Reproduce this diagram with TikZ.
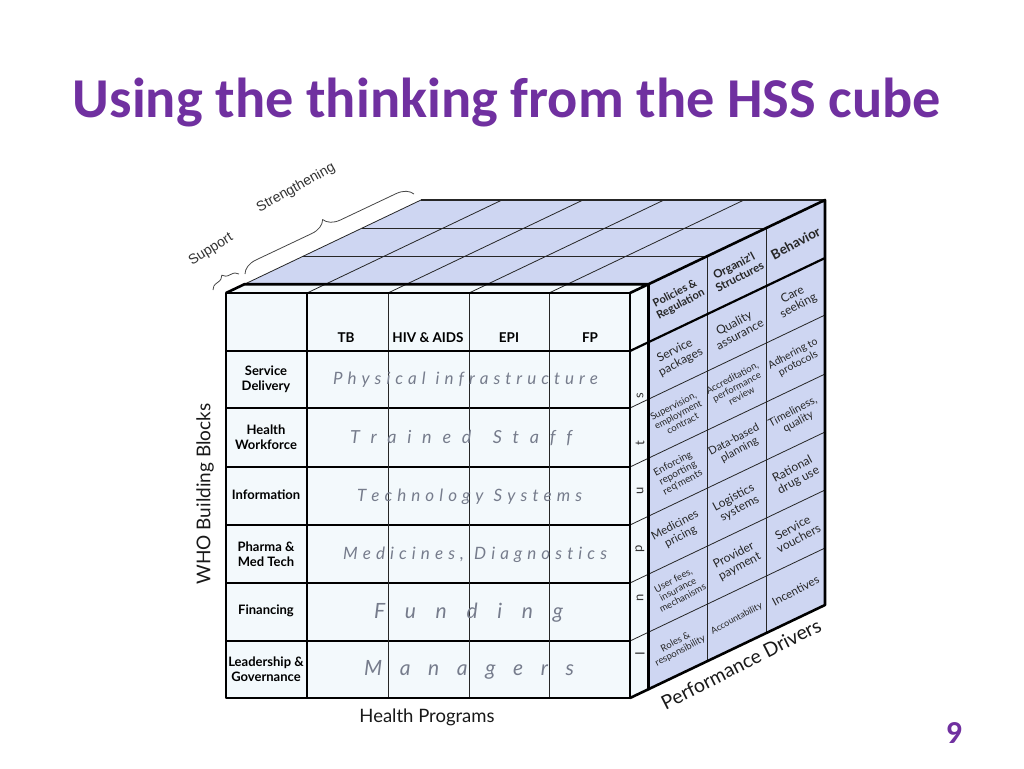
\documentclass[tikz,border=0pt]{standalone}
\usepackage{fontspec}
\usepackage{graphicx}
\usetikzlibrary{decorations.pathreplacing,calc}
\newfontfamily\lato{Lato}
\newfontfamily\carl{Carlito}
\newfontfamily\libs{Liberation Sans}
\definecolor{bluef}{RGB}{206,214,242}
\definecolor{frontf}{RGB}{243,249,252}
\definecolor{spreadc}{RGB}{118,124,140}
\definecolor{ttl}{RGB}{112,48,160}
\definecolor{bracec}{RGB}{70,70,70}
\makeatletter
\newcommand\spl@tters[1]{\def\spl@sep{}\@tfor\spl@c:=#1\do{\spl@sep\spl@c\def\spl@sep{\hfill}}}
\newcommand\spreadone[2]{\makebox[#1][s]{\spl@tters{#2}}}
\newcommand\spreadtwo[3]{\makebox[#1][s]{\spl@tters{#2}\hfill\hfill\spl@tters{#3}}}
\makeatother
\newcommand\rfcell[5]{% #1 name, #2 col, #3 ymid, #4 size, #5 text
  \pgfmathsetmacro\rfx{648.5+58.83*(#2+0.5)}%
  \pgfmathsetmacro\rfy{#3-8.8-(\rfx-648.5)*0.477}%
  \pgfmathsetmacro\rfb{#4*1.05}%
  \node[rftext,font=\lato\fontsize{#4}{\rfb}\selectfont] (#1) at (\rfx,\rfy) {#5};}
\newcommand\rfhead[5]{%
  \pgfmathsetmacro\rfx{648.5+58.83*(#2+0.5)}%
  \pgfmathsetmacro\rfy{#3-8.8-(\rfx-648.5)*0.477}%
  \pgfmathsetmacro\rfb{#4*1.08}%
  \node[rftext,font=\lato\bfseries\fontsize{#4}{\rfb}\selectfont] (#1) at (\rfx,\rfy) {#5};}
\begin{document}
\begin{tikzpicture}[x=1pt,y=-1pt,line join=round,
  gl/.style={line width=0.8pt,draw=black!85},
  gm/.style={line width=1.3pt,draw=black!85},
  gr/.style={line width=1.3pt,draw=black},
  gk/.style={line width=2.2pt,draw=black},
  gx/.style={line width=2.6pt,draw=black},
  rftext/.style={rotate=28,align=center,inner sep=0pt,text=black!85},
  hdr/.style={font=\lato\bfseries\fontsize{13.5}{13.5}\selectfont,inner sep=0pt},
  rowlab/.style={font=\lato\bfseries\fontsize{13}{15}\selectfont,align=center,inner sep=0pt},
  spr/.style={text=spreadc,inner sep=0pt},
  inp/.style={font=\lato\fontsize{13}{13}\selectfont,rotate=90,inner sep=0pt,text=black!80},
  brc/.style={decorate,draw=bracec,line width=0.8pt},
  axl/.style={inner sep=0pt,text=black!90}]
\useasboundingbox (0,0) rectangle (1024,768);
\fill[white] (0,0) rectangle (1024,768);
% corners
\coordinate (FTL) at (226,293);
\coordinate (FTR) at (630,293);
\coordinate (FBL) at (226,698);
\coordinate (FBR) at (630,698);
\coordinate (STL) at (244.5,284.2);
\coordinate (STR) at (648.5,284.2);
\coordinate (SBR) at (648.5,689.2);
\coordinate (BTL) at (421,200);
\coordinate (BTR) at (825,200);
\coordinate (BBR) at (825,605);
% fills
\fill[frontf] (FTL) rectangle (FBR);
\fill[frontf] (FTL) -- (FTR) -- (STR) -- (STL) -- cycle;
\fill[frontf] (FTR) -- (FBR) -- (SBR) -- (STR) -- cycle;
\fill[bluef] (STL) -- (STR) -- (BTR) -- (BTL) -- cycle;
\fill[bluef] (STR) -- (SBR) -- (BBR) -- (BTR) -- cycle;
% top face grid
\foreach \t in {1,2} \draw[gl] ($(STL)!\t/3!(BTL)$) -- ($(STR)!\t/3!(BTR)$);
\foreach \cx in {307,388,469,549} \draw[gl] (\cx+18.5,284.2) -- (\cx+195,200);
\draw[gl] (STL) -- (BTL);
\draw[gm] (BTL) -- (BTR);
% right face grid
\foreach \t in {1,2} \draw[gm] ($(STR)!\t/3!(BTR)$) -- ($(SBR)!\t/3!(BBR)$);
\foreach \yr in {408,467,525,583,641} \draw[gl] (630,\yr) -- (825,\yr-93);
\draw[gk] (630,351) -- (825,258);
% slab top diagonals
\foreach \cx in {307,388,469,549} \draw[gl] (\cx,293) -- (\cx+18.5,284.2);
% front grid
\foreach \yr in {408,467,525,583,641} \draw[gr] (226,\yr) -- (630,\yr);
\foreach \cx in {388,469,549} \draw[gl] (\cx,293) -- (\cx,698);
\draw[gk] (226,351) -- (630,351);
\draw[gk] (307,293) -- (307,698);
% outlines
\draw[gx] (FTL) rectangle (FBR);
\draw[gx] (FTL) -- (STL) -- (STR) -- (FTR);
\draw[gx] (STR) -- (SBR) -- (FBR);
\draw[gx] (STR) -- (BTR) -- (BBR) -- (SBR);
% braces
\draw[brc,decoration={brace,amplitude=8pt}] (213,290) -- (239,274);
\draw[brc,decoration={brace,amplitude=16pt}] (245,274) -- (414,194);
\node[font=\libs\fontsize{14}{14}\selectfont,rotate=32,text=black!80] (sup) at (211,250) {Support};
\node[font=\libs\fontsize{14}{14}\selectfont,rotate=29,text=black!80] (strg) at (296,188) {Strengthening};
% title and page
\node[anchor=base,text=ttl,inner sep=0pt] (title) at (507,117) {\resizebox{868pt}{!}{\carl\bfseries Using the thinking from the HSS cube}};
\node[text=ttl,font=\carl\bfseries\fontsize{32}{32}\selectfont,inner sep=0pt] (pg) at (954,733) {9};
% axis labels
\node[axl,font=\lato\fontsize{19}{19}\selectfont,rotate=90] (who) at (205,494) {WHO Building Blocks};
\node[axl,font=\lato\fontsize{18.5}{18.5}\selectfont] (hp) at (427,717) {Health Programs};
\node[axl,font=\lato\fontsize{19.5}{19.5}\selectfont,rotate=27] (pd) at (741,664) {Performance Drivers};
% header
\node[hdr] (tb) at (346,338) {TB};
\node[hdr] (hiv) at (428,338) {HIV \& AIDS};
\node[hdr] (epi) at (509,338) {EPI};
\node[hdr] (fp) at (590,338) {FP};
% row labels
\node[rowlab] (r1) at (266,379) {Service\\Delivery};
\node[rowlab] (r2) at (266,437) {Health\\Workforce};
\node[rowlab] (r3) at (266,495) {Information};
\node[rowlab] (r4) at (266,554) {Pharma \&\\Med Tech};
\node[rowlab] (r5) at (266,611) {Financing};
\node[rowlab] (r6) at (266,669) {Leadership \&\\Governance};
% spread texts
\node[spr,font=\lato\itshape\fontsize{17}{17}\selectfont] (s1) at (465.5,380) {\spreadtwo{265pt}{Physical}{infrastructure}};
\node[spr,font=\lato\itshape\fontsize{18}{18}\selectfont] (s2) at (461,438) {\spreadtwo{222pt}{Trained}{Staff}};
\node[spr,font=\lato\itshape\fontsize{17}{17}\selectfont] (s3) at (469.5,497) {\spreadtwo{225pt}{Technology}{Systems}};
\node[spr,font=\lato\itshape\fontsize{17}{17}\selectfont] (s4) at (475,555) {\spreadtwo{264pt}{Medicines,}{Diagnostics}};
\node[spr,font=\lato\itshape\fontsize{21}{21}\selectfont] (s5) at (468.5,613) {\spreadone{189pt}{Funding}};
\node[spr,font=\lato\itshape\fontsize{21}{21}\selectfont] (s6) at (469,670) {\spreadone{210pt}{Managers}};
% inputs letters
\node[inp] (i1) at (640,654) {I};
\node[inp] (i2) at (640,598) {n};
\node[inp] (i3) at (640,549) {p};
\node[inp] (i4) at (640,491) {u};
\node[inp] (i5) at (640,443) {t};
\node[inp] (i6) at (640,396) {s};
% right face header
\rfhead{h1}{0}{322}{11}{Policies \&\\Regulation}
\rfhead{h2}{1}{322}{11.5}{Organiz'l\\Structures}
\rfhead{h3}{2}{322}{13.5}{Behavior}
% right face cells
\rfcell{c11}{0}{379.5}{12}{Service\\packages}
\rfcell{c12}{1}{379.5}{12}{Quality\\assurance}
\rfcell{c13}{2}{379.5}{12}{Care\\seeking}
\rfcell{c21}{0}{437.5}{9.5}{Supervision,\\employment\\contract}
\rfcell{c22}{1}{437.5}{9.5}{Accreditation,\\performance\\review}
\rfcell{c23}{2}{437.5}{10.5}{Adhering to\\protocols}
\rfcell{c31}{0}{496}{10}{Enforcing\\reporting\\req'ments}
\rfcell{c32}{1}{496}{11}{Data-based\\planning}
\rfcell{c33}{2}{496}{11}{Timeliness,\\quality}
\rfcell{c41}{0}{554}{11.5}{Medicines\\pricing}
\rfcell{c42}{1}{554}{12}{Logistics\\systems}
\rfcell{c43}{2}{554}{12}{Rational\\drug use}
\rfcell{c51}{0}{612}{9.5}{User fees,\\insurance\\mechanisms}
\rfcell{c52}{1}{612}{12}{Provider\\payment}
\rfcell{c53}{2}{612}{12}{Service\\vouchers}
\rfcell{c61}{0}{669.5}{9.5}{Roles \&\\responsibility}
\rfcell{c62}{1}{669.5}{9}{Accountability}
\rfcell{c63}{2}{669.5}{11.5}{Incentives}
\end{tikzpicture}
\end{document}
